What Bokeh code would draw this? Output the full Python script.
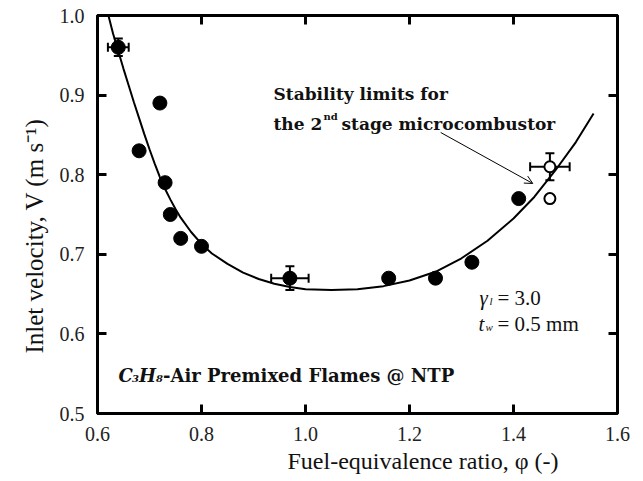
from bokeh.plotting import figure
from bokeh.models import (ColumnDataSource, Whisker, TeeHead, Arrow, OpenHead, Label,
                          LinearAxis, FixedTicker, Title)
from bokeh.embed import file_html
from bokeh.resources import INLINE

# ---------------- data ----------------
x_ticks = [0.6, 0.8, 1.0, 1.2, 1.4, 1.6]
x_tick_labels = ["0.6", "0.8", "1.0", "1.2", "1.4", "1.6"]
y_ticks = [0.5, 0.6, 0.7, 0.8, 0.9, 1.0]
y_tick_labels = ["0.5", "0.6", "0.7", "0.8", "0.9", "1.0"]

x_title = "Fuel-equivalence ratio, \u03c6 (-)"
y_title = "Inlet velocity, V (m s\u207b\u00b9)"

phi_filled = [0.64, 0.68, 0.72, 0.73, 0.74, 0.76, 0.80, 0.97, 1.16, 1.25, 1.32, 1.41]
v_filled = [0.96, 0.83, 0.89, 0.79, 0.75, 0.72, 0.71, 0.67, 0.67, 0.67, 0.69, 0.77]

phi_open = [1.47, 1.47]
v_open = [0.81, 0.77]

err_phi = [0.64, 0.97, 1.47]
err_v = [0.96, 0.67, 0.81]
err_dphi = [0.02, 0.036, 0.038]
err_dv = [0.011, 0.015, 0.017]

fit_phi = [0.621, 0.63, 0.64, 0.65, 0.66, 0.67, 0.68, 0.69, 0.70, 0.71, 0.72, 0.73, 0.74,
           0.75, 0.76, 0.78, 0.80, 0.82, 0.85, 0.88, 0.91, 0.94, 0.97, 1.00, 1.05, 1.10,
           1.15, 1.20, 1.25, 1.30, 1.35, 1.40, 1.44, 1.48, 1.52, 1.554]
fit_v = [1.000, 0.977, 0.955, 0.933, 0.912, 0.891, 0.871, 0.851, 0.832, 0.814, 0.797, 0.782,
         0.769, 0.757, 0.746, 0.728, 0.713, 0.701, 0.688, 0.677, 0.669, 0.663, 0.659, 0.656,
         0.655, 0.656, 0.660, 0.667, 0.678, 0.695, 0.717, 0.745, 0.772, 0.805, 0.841, 0.877]

arrow_from = (1.26, 0.853)
arrow_to = (1.437, 0.789)

SERIF = "Liberation Serif"
BOLDF = "DejaVu Serif"
INK = "#111111"

# ---------------- figure ----------------
p = figure(width=643, height=481, x_range=(0.6, 1.6), y_range=(0.5, 1.0),
           output_backend="svg", toolbar_location=None, title=None,
           min_border_left=97, min_border_right=26, min_border_top=15, min_border_bottom=68,
           x_axis_location=None, y_axis_location=None)
p.grid.visible = False
p.outline_line_color = "black"
p.outline_line_width = 3
p.background_fill_color = "white"
p.border_fill_color = "white"


def make_axis(ticks, labels, show):
    ax = LinearAxis(ticker=FixedTicker(ticks=ticks))
    ax.axis_line_color = None
    ax.major_tick_in = 9
    ax.major_tick_out = 0
    ax.major_tick_line_width = 3
    ax.major_tick_line_color = "black"
    ax.minor_tick_line_color = None
    if show:
        ax.major_label_overrides = dict(zip(ticks, labels))
        ax.major_label_text_font = SERIF
        ax.major_label_text_font_size = "20px"
        ax.major_label_text_color = "#222222"
        ax.major_label_standoff = 13
    else:
        ax.major_label_overrides = {t: "" for t in ticks}
        ax.major_label_text_font_size = "2px"
        ax.major_label_standoff = 0
    return ax


p.add_layout(make_axis(x_ticks, x_tick_labels, True), "below")
p.add_layout(make_axis(y_ticks, y_tick_labels, True), "left")
p.add_layout(make_axis(x_ticks, x_tick_labels, False), "above")
p.add_layout(make_axis(y_ticks, y_tick_labels, False), "right")

# axis titles
p.add_layout(Title(text=x_title, align="left", offset=190, standoff=5,
                   text_font=SERIF, text_font_size="24px", text_font_style="normal",
                   text_color=INK), "below")
p.add_layout(Title(text=y_title, align="left", offset=60, standoff=17,
                   text_font=SERIF, text_font_size="25px", text_font_style="normal",
                   text_color=INK), "left")

# fitted curve
p.line(fit_phi, fit_v, line_color="black", line_width=2)

# error bars
err_src = ColumnDataSource(dict(
    phi=err_phi, v=err_v,
    phi_lo=[a - b for a, b in zip(err_phi, err_dphi)],
    phi_hi=[a + b for a, b in zip(err_phi, err_dphi)],
    v_lo=[a - b for a, b in zip(err_v, err_dv)],
    v_hi=[a + b for a, b in zip(err_v, err_dv)],
))
p.add_layout(Whisker(source=err_src, base="v", lower="phi_lo", upper="phi_hi", dimension="width",
                     line_width=2, line_color="black",
                     lower_head=TeeHead(size=9, line_width=2), upper_head=TeeHead(size=9, line_width=2)))
p.add_layout(Whisker(source=err_src, base="phi", lower="v_lo", upper="v_hi", dimension="height",
                     line_width=2, line_color="black",
                     lower_head=TeeHead(size=9, line_width=2), upper_head=TeeHead(size=9, line_width=2)))

# markers
p.scatter(phi_filled, v_filled, size=14, fill_color="black", line_color="black")
p.scatter(phi_open, v_open, size=11, fill_color="white", line_color="black", line_width=2)

# arrow
p.add_layout(Arrow(x_start=arrow_from[0], y_start=arrow_from[1], x_end=arrow_to[0], y_end=arrow_to[1],
                   line_width=1, line_color="black",
                   end=OpenHead(size=8, line_width=1, line_color="black")))


def lab(text, dx, dy, size, font=SERIF, style="normal", color=INK):
    p.add_layout(Label(x=0.6, y=0.5, x_offset=dx, y_offset=dy, text=text,
                       text_font=font, text_font_size=size, text_font_style=style,
                       text_align="left", text_baseline="alphabetic", text_color=color))


# annotation: stability limits
lab("Stability limits for", 176, 320, "17px", BOLDF, "bold")
lab("the 2", 176, 290, "17px", BOLDF, "bold")
lab("nd", 226, 297, "10px", BOLDF, "bold")
lab(" stage microcombustor", 244, 290, "17px", BOLDF, "bold")

# annotation: mixture
lab("C", 21, 38, "18px", BOLDF, "bold italic")
lab("3", 34.5, 35, "10px", BOLDF, "bold italic")
lab("H", 41.5, 38, "18px", BOLDF, "bold italic")
lab("8", 58.5, 35, "10px", BOLDF, "bold italic")
lab("-Air Premixed Flames @ NTP", 65.5, 38, "18px", BOLDF, "bold")

# parameters
lab("\u03b3", 382, 116, "21px", SERIF, "italic")
lab("l", 392, 113, "11px", SERIF, "italic")
lab("= 3.0", 400, 116, "21px", SERIF)
lab("t", 381, 90, "21px", SERIF, "italic")
lab("w", 388, 87, "11px", SERIF, "italic")
lab("= 0.5 mm", 400, 90, "21px", SERIF)

open("out.html", "w").write(file_html(p, INLINE))
